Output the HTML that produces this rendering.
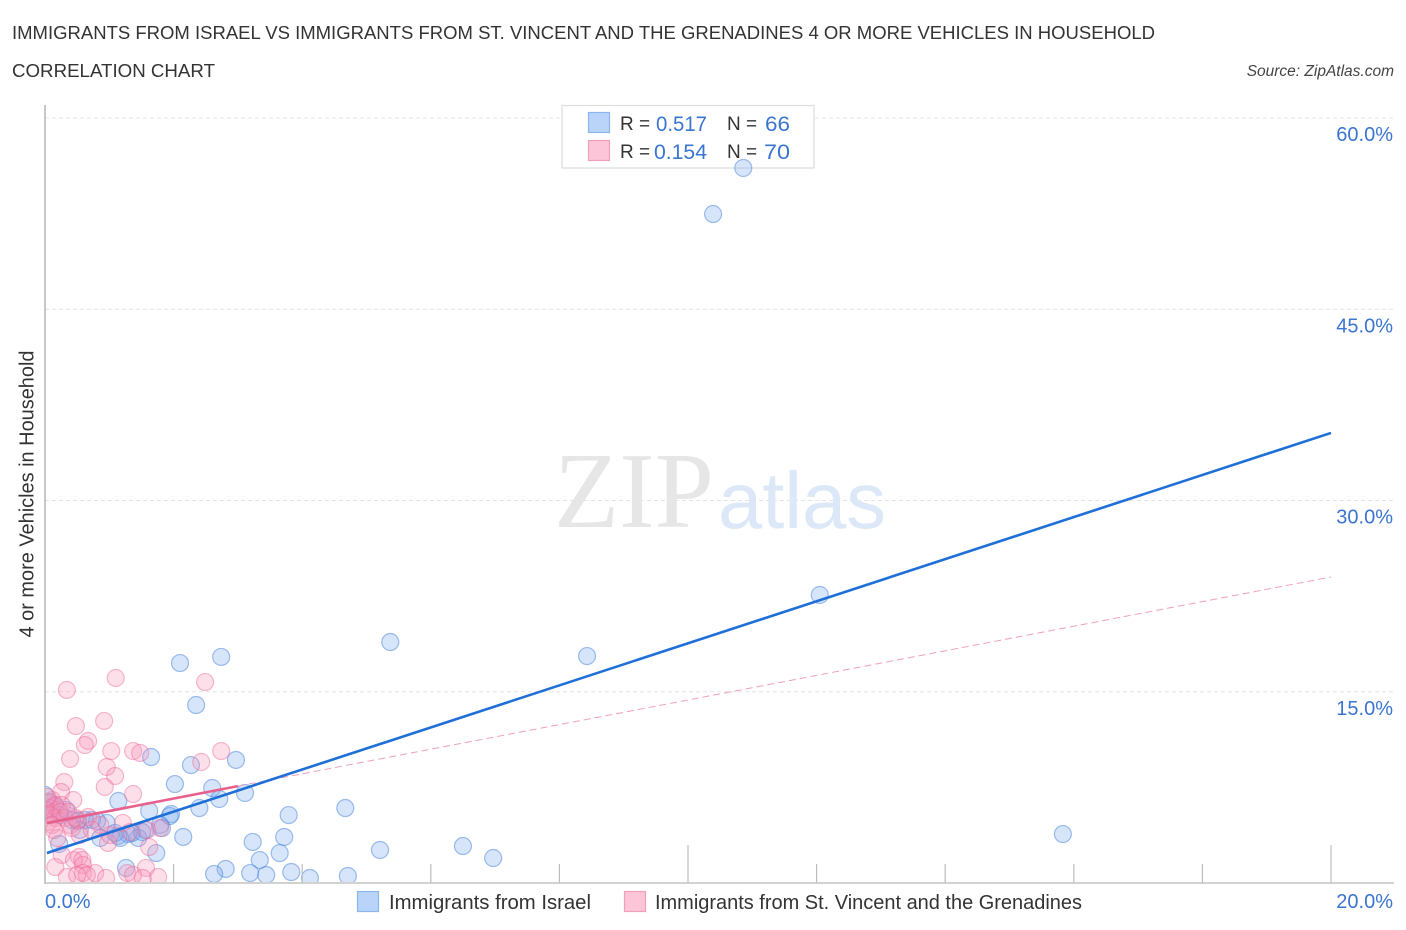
<!DOCTYPE html>
<html lang="en">
<head>
<meta charset="utf-8">
<title>Immigrants from Israel vs Immigrants from St. Vincent correlation chart</title>
<style>
html,body{margin:0;padding:0;background:#fff;}
svg{display:block;font-family:"Liberation Sans",sans-serif;}
</style>
</head>
<body>
<svg id="chart" xmlns="http://www.w3.org/2000/svg" width="1406" height="930" viewBox="0 0 1406 930">
  <defs>
    <clipPath id="plot-clip"><rect x="45" y="105" width="1350" height="777"/></clipPath>
  </defs>
  <rect x="0" y="0" width="1406" height="930" fill="#ffffff"/>
  <text x="12" y="39" font-size="18.5" fill="#333" textLength="1143" lengthAdjust="spacingAndGlyphs">IMMIGRANTS FROM ISRAEL VS IMMIGRANTS FROM ST. VINCENT AND THE GRENADINES 4 OR MORE VEHICLES IN HOUSEHOLD</text>
  <text x="12" y="77" font-size="18.5" fill="#333" textLength="203" lengthAdjust="spacingAndGlyphs">CORRELATION CHART</text>
  <text x="1394" y="76" font-size="15.5" font-style="italic" fill="#444" text-anchor="end">Source: ZipAtlas.com</text>

  <g id="grid"></g>

  <g>
    <text x="554" y="527" font-family="'Liberation Serif',serif" font-size="108" fill="#e6e6e6" textLength="160" lengthAdjust="spacingAndGlyphs">ZIP</text>
    <text x="718" y="528" font-size="80" fill="#dce8f8" textLength="168" lengthAdjust="spacingAndGlyphs">atlas</text>
  </g>

  <g>
    <rect x="562" y="105.5" width="252" height="62.5" fill="#fff" stroke="#dddddd" stroke-width="1.2"/>
    <rect x="588.5" y="112.5" width="21" height="20" fill="#b9d4f8" stroke="#8db6ec" stroke-width="1.2"/>
    <rect x="588.5" y="140.5" width="21" height="20" fill="#fcc5d8" stroke="#f0a0bc" stroke-width="1.2"/>
    <text x="620" y="130" font-size="19" fill="#333">R =</text>
    <text x="656" y="131" font-size="21" fill="#3a75d0" textLength="51" lengthAdjust="spacingAndGlyphs">0.517</text>
    <text x="727" y="130" font-size="19" fill="#333">N =</text>
    <text x="765" y="131" font-size="21" fill="#3a75d0" textLength="25" lengthAdjust="spacingAndGlyphs">66</text>
    <text x="620" y="158" font-size="19" fill="#333">R =</text>
    <text x="654" y="159" font-size="21" fill="#3a75d0" textLength="53" lengthAdjust="spacingAndGlyphs">0.154</text>
    <text x="727" y="158" font-size="19" fill="#333">N =</text>
    <text x="764" y="159" font-size="21" fill="#3a75d0" textLength="26" lengthAdjust="spacingAndGlyphs">70</text>
  </g>

  <g id="points" clip-path="url(#plot-clip)"></g>
  <g id="trends"></g>
  <g id="axes"></g>
  <g id="tick-labels"></g>

  <text transform="translate(33.5,494) rotate(-90)" font-size="20" fill="#333" text-anchor="middle" textLength="287" lengthAdjust="spacingAndGlyphs">4 or more Vehicles in Household</text>

  <g>
    <rect x="357.5" y="891.5" width="21" height="20" fill="#b9d4f8" stroke="#8db6ec" stroke-width="1.2"/>
    <text x="389" y="909" font-size="20" fill="#333" textLength="202" lengthAdjust="spacingAndGlyphs">Immigrants from Israel</text>
    <rect x="624.5" y="891.5" width="21" height="20" fill="#fcc5d8" stroke="#f0a0bc" stroke-width="1.2"/>
    <text x="655" y="909" font-size="20" fill="#333" textLength="427" lengthAdjust="spacingAndGlyphs">Immigrants from St. Vincent and the Grenadines</text>
  </g>
</svg>

<script>
// Chart data (percent values)
const israelX = [10.86,10.39,12.05,8.43,5.37,2.74,2.10,2.35,1.65,2.97,2.27,2.02,2.60,2.71,3.11,1.14,1.62,2.40,1.96,1.94,3.79,4.67,15.83,3.23,3.72,5.21,6.50,6.97,3.65,3.34,2.81,2.63,3.19,3.44,3.83,4.12,4.71,1.26,1.73,2.15,1.82,1.79,1.56,1.45,1.35,1.29,1.14,0.86,0.96,0.73,0.81,0.62,0.51,0.42,0.22,0.54,0.33,0.00,0.08,0.16,0.23,0.05,0.11,1.09,1.17,1.51];
const israelY = [56.08,52.47,22.59,17.80,18.90,17.73,17.25,13.96,9.88,9.65,9.25,7.76,7.45,6.59,7.06,6.43,5.65,5.88,5.41,5.25,5.33,5.88,3.84,3.22,3.61,2.59,2.90,1.96,2.35,1.80,1.10,0.71,0.78,0.63,0.86,0.39,0.55,1.18,2.35,3.61,4.31,4.55,4.16,3.53,3.92,3.84,3.69,3.53,4.71,4.94,4.86,4.94,4.86,4.94,3.06,4.16,5.73,6.90,6.35,6.04,5.33,5.73,5.33,3.92,3.53,4.00];
const vincentX = [1.10,0.34,2.49,0.92,0.48,0.67,0.62,1.03,1.37,1.48,2.74,2.43,0.39,0.96,1.09,0.93,1.37,0.30,0.25,0.44,0.11,0.05,0.16,0.08,0.20,0.26,0.02,0.08,0.16,0.23,0.05,0.11,0.31,0.39,0.42,0.51,0.67,1.21,1.79,1.59,1.32,0.98,1.62,0.53,0.26,0.45,0.58,0.59,0.16,1.57,0.34,0.59,0.78,0.95,1.28,1.37,1.76,1.52,0.65,0.50,0.54,0.19,0.86,0.73,1.01,0.00,0.03,0.14,0.36,0.47];
const vincentY = [16.08,15.14,15.76,12.71,12.31,11.14,10.82,10.35,10.35,10.20,10.35,9.49,9.73,9.10,8.39,7.53,6.98,7.92,7.14,6.51,6.51,6.27,6.12,5.88,5.73,6.12,5.33,5.33,5.10,5.57,4.78,4.55,5.10,4.55,4.31,4.94,5.18,4.71,4.31,4.16,4.00,3.14,2.82,2.04,2.20,1.80,1.80,1.41,1.25,1.18,0.47,0.78,0.78,0.39,0.78,0.63,0.47,0.39,0.63,0.63,3.76,3.53,4.55,4.16,3.76,5.73,6.75,4.16,5.57,5.10];

// Trend lines: [x start, x end] and [y start, y end]
const israelTrendX = [0.03, 20];
const israelTrendY = [2.35, 35.3];
const vincentSolidX = [0.03, 3.0];
const vincentSolidY = [4.7, 7.6];
const vincentDashX = [3.0, 20];
const vincentDashY = [7.6, 24.0];

// Axis ticks
const yTicks = [15, 30, 45, 60];
const yTickLabels = ["15.0%", "30.0%", "45.0%", "60.0%"];
const xTicks = [2, 4, 6, 8, 10, 12, 14, 16, 18, 20];
const xMajorTicks = [10, 20];
const xEndLabels = ["0.0%", "20.0%"];

// Axis functions
function sx(v){ return 45 + v * 64.3; }
function sy(v){ return 883 - v * 12.75; }

const NS = "http://www.w3.org/2000/svg";
function make(tag, attrs, parent){
  const el = document.createElementNS(NS, tag);
  for (const k in attrs) el.setAttribute(k, attrs[k]);
  parent.appendChild(el);
  return el;
}

const grid = document.getElementById("grid");
yTicks.forEach(function(t){
  const l = make("line", {x1:45, x2:1394, y1:sy(t), y2:sy(t), stroke:"#e4e4e4", "stroke-width":1, "stroke-dasharray":"4 3"}, grid);
  
  
});

const points = document.getElementById("points");
israelX.forEach(function(x, i){
  const c = make("circle", {cx:sx(x), cy:sy(israelY[i]), r:8.5, fill:"rgba(120,170,240,0.3)", stroke:"rgba(70,130,220,0.5)", "stroke-width":1.2}, points);
  
  
});
vincentX.forEach(function(x, i){
  const c = make("circle", {cx:sx(x), cy:sy(vincentY[i]), r:8.5, fill:"rgba(248,150,185,0.3)", stroke:"rgba(235,105,150,0.45)", "stroke-width":1.2}, points);
  
  
});

const trends = document.getElementById("trends");
const vDash = make("line", {x1:sx(vincentDashX[0]), y1:sy(vincentDashY[0]), x2:sx(vincentDashX[1]), y2:sy(vincentDashY[1]), stroke:"#f0a0ba", "stroke-width":1, "stroke-dasharray":"7 4"}, trends);


const vSolid = make("line", {x1:sx(vincentSolidX[0]), y1:sy(vincentSolidY[0]), x2:sx(vincentSolidX[1]), y2:sy(vincentSolidY[1]), stroke:"#e8608c", "stroke-width":2.6}, trends);


const iLine = make("line", {x1:sx(israelTrendX[0]), y1:sy(israelTrendY[0]), x2:sx(israelTrendX[1]), y2:sy(israelTrendY[1]), stroke:"#1f6fd8", "stroke-width":2.6}, trends);



const axes = document.getElementById("axes");
const yAxis = make("line", {x1:45, x2:45, y1:105, y2:884, stroke:"#b5b5b5", "stroke-width":1.5}, axes);


const xAxis = make("line", {x1:44, x2:1394, y1:883, y2:883, stroke:"#c4c4c4", "stroke-width":1.6}, axes);


xTicks.forEach(function(t){
  const top = xMajorTicks.indexOf(t) >= 0 ? 845 : 864;
  const l = make("line", {x1:sx(t), x2:sx(t), y1:top, y2:883, stroke:"#bdbdbd", "stroke-width":1.2}, axes);
  
  
});

const labels = document.getElementById("tick-labels");
yTicks.forEach(function(t, i){
  const txt = make("text", {x:1393, y:sy(t) + 23, "font-size":20, fill:"#3a75d0", "text-anchor":"end"}, labels);
  
  
  txt.textContent = yTickLabels[i];
});
const x0 = make("text", {x:45, y:908, "font-size":20, fill:"#3a75d0"}, labels);


x0.textContent = xEndLabels[0];
const x1 = make("text", {x:1393, y:908, "font-size":20, fill:"#3a75d0", "text-anchor":"end"}, labels);


x1.textContent = xEndLabels[1];
</script>
</body>
</html>
